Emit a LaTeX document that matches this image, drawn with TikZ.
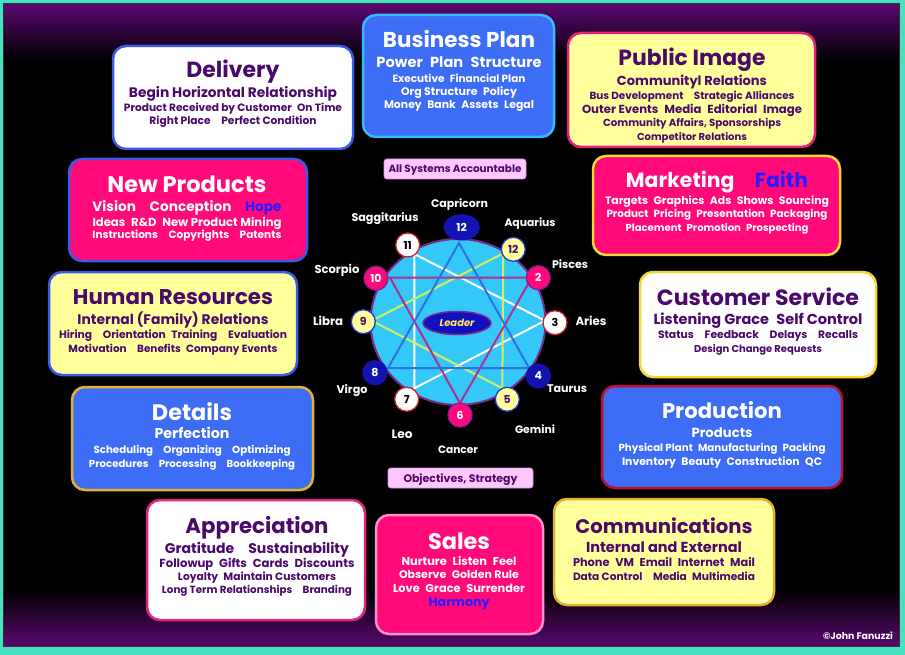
\documentclass[tikz,border=0pt]{standalone}
\usepackage{fontspec}
\setmainfont{Poppins}
\usepackage{graphicx}
\usetikzlibrary{shapes.geometric}
\definecolor{teal1}{HTML}{48E0C0}
\definecolor{bgpurple}{HTML}{5A0870}
\definecolor{pinkfill}{HTML}{FF0A78}
\definecolor{bluefill}{HTML}{3D6CF5}
\definecolor{yellowfill}{HTML}{FFFF9C}
\definecolor{ptext}{HTML}{4A0A6A}
\definecolor{btext}{HTML}{2A1AFF}
\definecolor{cyanbord}{HTML}{3AB8FF}
\definecolor{bluebord}{HTML}{3A5AE8}
\definecolor{pinkbord}{HTML}{E8207E}
\definecolor{yelbord}{HTML}{F8D830}
\definecolor{goldbord}{HTML}{E8B030}
\definecolor{redbord}{HTML}{C01030}
\definecolor{lpinkbord}{HTML}{FF90C8}
\definecolor{ringblue}{HTML}{33C8F8}
\definecolor{ringpurple}{HTML}{7A2A8A}
\definecolor{labpink}{HTML}{FFC8FF}
\definecolor{labpinkbord}{HTML}{E090E0}
\definecolor{leaderblue}{HTML}{1010C0}
\definecolor{leaderyellow}{HTML}{FFE860}
\definecolor{darkblue}{HTML}{1212B0}
\definecolor{nodered}{HTML}{CC2030}
\definecolor{nodeblue}{HTML}{2838C0}
\definecolor{nodepurple}{HTML}{8A1A9A}
\definecolor{lineblue}{HTML}{3070E0}
\definecolor{linemag}{HTML}{B03090}
\definecolor{lineyel}{HTML}{D0EF60}
\pgfdeclareverticalshading{bgshade}{100bp}{color(0bp)=(bgpurple); color(25bp)=(bgpurple); color(29.5bp)=(black); color(70.5bp)=(black); color(75bp)=(bgpurple); color(100bp)=(bgpurple)}
\newcommand\tl[6]{\node[anchor=base,inner sep=0pt,outer sep=0pt,text=#4] (#1) at (#2,#3) {\resizebox{#5pt}{!}{\bfseries #6}};}
\newcommand\g{\enskip}
\tikzset{
  box/.style={rounded corners=13pt, line width=2.5pt, inner sep=0pt},
  num/.style={circle, minimum size=24pt, inner sep=0pt, line width=1.3pt, font=\bfseries\fontsize{11}{11}\selectfont},
  numW/.style={num, fill=white, draw=nodered, text=black},
  numY/.style={num, fill=yellowfill, draw=nodeblue, text=ptext},
  numP/.style={num, fill=pinkfill, draw=nodepurple, text=white},
  numB/.style={num, fill=darkblue, draw=darkblue, text=white},
  tri/.style={line width=2pt, line join=miter},
  lab/.style={rounded corners=3pt, fill=labpink, draw=labpinkbord, line width=0.8pt, inner sep=0pt}
}
\begin{document}
\begin{tikzpicture}[x=1pt,y=-1pt]
\useasboundingbox (0,0) rectangle (905,655);
% frame and background
\fill[teal1] (0,0) rectangle (905,655);
\path[shading=bgshade, draw={black!80!white}, line width=1.5pt] (3.5,3.5) rectangle (899.5,646.5);

% boxes
\node[box, fill=bluefill, draw=cyanbord, minimum width=191pt, minimum height=122pt] (bp) at (458.5,76) {};
\node[box, fill=white, draw=bluebord, minimum width=240pt, minimum height=103pt] (del) at (233,97.5) {};
\node[box, fill=yellowfill, draw=pinkbord, minimum width=247pt, minimum height=114pt] (pub) at (691.5,90) {};
\node[box, fill=pinkfill, draw=bluebord, minimum width=238pt, minimum height=102pt] (np) at (188,210) {};
\node[box, fill=pinkfill, draw=yelbord, minimum width=247pt, minimum height=99pt] (mkt) at (716.5,205.5) {};
\node[box, fill=yellowfill, draw=bluebord, minimum width=248pt, minimum height=103pt] (hr) at (173,323.5) {};
\node[box, fill=white, draw=yelbord, minimum width=236pt, minimum height=105pt] (cs) at (758,324.5) {};
\node[box, fill=bluefill, draw=goldbord, minimum width=241pt, minimum height=103pt] (det) at (192.5,438.5) {};
\node[box, fill=bluefill, draw=redbord, minimum width=240pt, minimum height=102pt] (prod) at (722,437) {};
\node[box, fill=white, draw=pinkbord, minimum width=218pt, minimum height=120pt] (app) at (256,560) {};
\node[box, fill=pinkfill, draw=lpinkbord, minimum width=167pt, minimum height=119pt] (sales) at (459.5,574.5) {};
\node[box, fill=yellowfill, draw=goldbord, minimum width=220pt, minimum height=106pt] (comm) at (664,552) {};

% Business Plan
\tl{bp1}{459}{48}{white}{152}{Business Plan}
\tl{bp2}{459}{68}{white}{165}{Power\g Plan\g Structure}
\tl{bp3}{459}{83}{white}{133}{Executive\g Financial Plan}
\tl{bp4}{459}{96}{white}{116}{Org Structure\g Policy}
\tl{bp5}{459}{109}{white}{150}{Money\g Bank\g Assets\g Legal}
% Delivery
\tl{del1}{233}{78}{ptext}{93}{Delivery}
\tl{del2}{233}{98}{ptext}{208}{Begin Horizontal Relationship}
\tl{del3}{233}{112}{ptext}{218}{Product Received by Customer\g On Time}
\tl{del4}{233}{125}{ptext}{167}{Right Place\quad Perfect Condition}
% Public Image
\tl{pub1}{692}{66}{ptext}{147}{Public Image}
\tl{pub2}{692}{86}{ptext}{150}{Communityl Relations}
\tl{pub3}{692}{100}{ptext}{205}{Bus Development\quad Strategic Alliances}
\tl{pub4}{692}{114}{ptext}{220}{Outer Events\g Media\g Editorial\g Image}
\tl{pub5}{692}{127}{ptext}{178}{Community Affairs, Sponsorships}
\tl{pub6}{692}{141}{ptext}{110}{Competitor Relations}
% New Products
\tl{np1}{187}{193}{white}{159}{New Products}
\tl{np2}{187}{212}{white}{189}{Vision\quad Conception\quad \textcolor{btext}{Hope}}
\tl{np3}{187}{226}{white}{189}{Ideas\g R\&D\g New Product Mining}
\tl{np4}{187}{239}{white}{189}{Instructions\quad Copyrights\quad Patents}
% Marketing
\tl{mkt1}{717}{188}{white}{182}{Marketing\quad \textcolor{btext}{Faith}}
\tl{mkt2}{717}{205}{white}{224}{Targets\g Graphics\g Ads\g Shows\g Sourcing}
\tl{mkt3}{717}{218}{white}{221}{Product\g Pricing\g Presentation\g Packaging}
\tl{mkt4}{717}{232}{white}{183}{Placement\g Promotion\g Prospecting}
% Human Resources
\tl{hr1}{173}{304}{ptext}{200}{Human Resources}
\tl{hr2}{173}{324}{ptext}{191}{Internal (Family) Relations}
\tl{hr3}{173}{338}{ptext}{228}{Hiring\quad Orientation\g Training\quad Evaluation}
\tl{hr4}{173}{352}{ptext}{209}{Motivation\quad Benefits\g Company Events}
% Customer Service
\tl{cs1}{758}{305}{ptext}{202}{Customer Service}
\tl{cs2}{758}{324}{ptext}{209}{Listening Grace\g Self Control}
\tl{cs3}{758}{338}{ptext}{200}{Status\quad Feedback\quad Delays\quad Recalls}
\tl{cs4}{758}{352}{ptext}{128}{Design Change Requests}
% Details
\tl{det1}{192}{420}{white}{80}{Details}
\tl{det2}{192}{438}{white}{75}{Perfection}
\tl{det3}{192}{453}{white}{197}{Scheduling\quad Organizing\quad Optimizing}
\tl{det4}{192}{467}{white}{206}{Procedures\quad Processing\quad Bookkeeping}
% Production
\tl{prod1}{722}{418}{white}{120}{Production}
\tl{prod2}{722}{437}{white}{61}{Products}
\tl{prod3}{722}{451}{white}{207}{Physical Plant\g Manufacturing\g Packing}
\tl{prod4}{722}{465}{white}{200}{Inventory\g Beauty\g Construction\g QC}
% Appreciation
\tl{app1}{257}{533}{ptext}{143}{Appreciation}
\tl{app2}{257}{553}{ptext}{184}{Gratitude\quad Sustainability}
\tl{app3}{257}{567}{ptext}{195}{Followup\g Gifts\g Cards\g Discounts}
\tl{app4}{257}{580}{ptext}{158}{Loyalty\g Maintain Customers}
\tl{app5}{257}{593}{ptext}{190}{Long Term Relationships\quad Branding}
% Sales
\tl{sal1}{459}{549}{white}{62}{Sales}
\tl{sal2}{459}{565}{white}{115}{Nurture\g Listen\g Feel}
\tl{sal3}{459}{578}{white}{120}{Observe\g Golden Rule}
\tl{sal4}{459}{592}{white}{132}{Love\g Grace\g Surrender}
\tl{sal5}{459}{606}{btext}{61}{Harmony}
% Communications
\tl{com1}{664}{533}{ptext}{177}{Communications}
\tl{com2}{664}{552}{ptext}{156}{Internal and External}
\tl{com3}{664}{566}{ptext}{182}{Phone\g VM\g Email\g Internet\g Mail}
\tl{com4}{664}{580}{ptext}{182}{Data Control\quad Media\g Multimedia}
% copyright
\tl{copy}{858}{639}{white}{70}{©John Fanuzzi}

% centre labels
\node[lab, minimum width=142pt, minimum height=20pt] (asa) at (455,169) {};
\tl{asat}{455}{173}{ptext}{133}{All Systems Accountable}
\node[lab, minimum width=145pt, minimum height=20pt] (obj) at (460.5,478) {};
\tl{objt}{460.5}{482}{ptext}{114}{Objectives, Strategy}

% ring
\node[ellipse, fill=ringblue, draw=ringpurple, line width=2pt, minimum width=175pt, minimum height=166pt, inner sep=0pt] (ring) at (458,322) {};
% vertices
\coordinate (v12) at (459,243);
\coordinate (v8) at (388,368);
\coordinate (v4) at (529,368);
\coordinate (v10) at (390,277.7);
\coordinate (v2) at (531.7,277.7);
\coordinate (v6) at (460,403.3);
\coordinate (v1) at (503.3,253.3);
\coordinate (v9) at (371.7,320.7);
\coordinate (v5) at (502.3,388.3);
\coordinate (v11) at (414.3,254);
\coordinate (v3) at (545,320.7);
\coordinate (v7) at (414.3,388.3);
\draw[tri, white] (v11) -- (v3) -- (v7) -- cycle;
\draw[tri, lineyel] (v1) -- (v9) -- (v5) -- cycle;
\draw[tri, linemag] (v10) -- (v2) -- (v6) -- cycle;
\draw[tri, lineblue] (v12) -- (v8) -- (v4) -- cycle;

\node[ellipse, fill=leaderblue, draw=ringpurple, line width=1.5pt, minimum width=68pt, minimum height=23pt, inner sep=0pt, text=leaderyellow, font=\bfseries\itshape\fontsize{10}{10}\selectfont] (leader) at (457,323) {Leader};

% number nodes
\node[numB, ellipse, minimum width=35pt, minimum height=25pt] (n12) at (461.7,227.3) {12};
\node[numW] (n11) at (407.7,245) {11};
\node[numY] (n1) at (513.3,249.3) {12};
\node[numP] (n10) at (376,278.3) {10};
\node[numP] (n2) at (538.3,277.7) {2};
\node[numY] (n9) at (363.3,321.7) {9};
\node[numW] (n3) at (555,322.7) {3};
\node[numB] (n8) at (375,372.7) {8};
\node[numB] (n4) at (538.3,376) {4};
\node[numW] (n7) at (406.7,399.3) {7};
\node[numY] (n5) at (507.3,399.3) {5};
\node[numP] (n6) at (460,415) {6};

% zodiac labels
\tl{zcap}{459.5}{208}{white}{57}{Capricorn}
\tl{zsag}{385}{222}{white}{67}{Saggitarius}
\tl{zaqu}{530}{226}{white}{51}{Aquarius}
\tl{zsco}{337}{273}{white}{45}{Scorpio}
\tl{zpis}{570}{269}{white}{36}{Pisces}
\tl{zlib}{328}{325}{white}{30}{Libra}
\tl{zari}{591}{325}{white}{31}{Aries}
\tl{zvir}{352}{393}{white}{31}{Virgo}
\tl{ztau}{567}{392}{white}{40}{Taurus}
\tl{zleo}{402}{438}{white}{21}{Leo}
\tl{zgem}{535}{433}{white}{40}{Gemini}
\tl{zcan}{458}{453}{white}{40}{Cancer}
\end{tikzpicture}
\end{document}
